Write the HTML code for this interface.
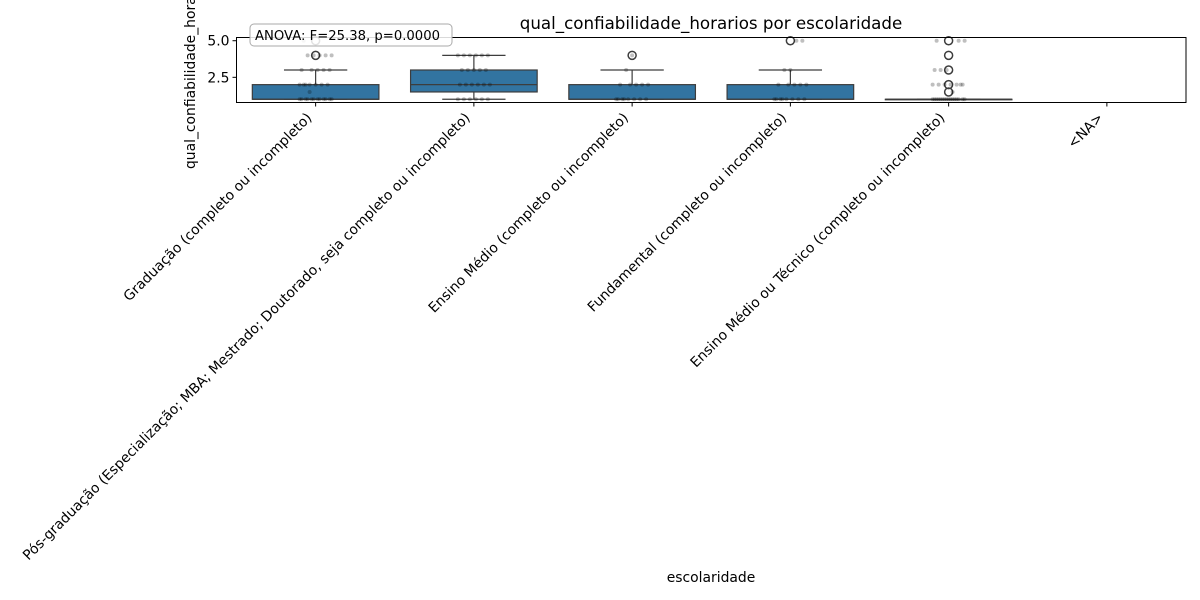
<!DOCTYPE html>
<html><head><meta charset="utf-8"><style>
body{margin:0;background:#fff}
svg{display:block;font-family:"DejaVu Sans","Liberation Sans",sans-serif}
</style></head><body>
<svg width="1200" height="600" viewBox="0 0 1200 600">
<g id="root"></g>
</svg>
<script>
const categories=["Graduação (completo ou incompleto)","Pós-graduação (Especialização; MBA; Mestrado; Doutorado, seja completo ou incompleto)","Ensino Médio (completo ou incompleto)","Fundamental (completo ou incompleto)","Ensino Médio ou Técnico (completo ou incompleto)","<NA>"];
const q1=[1,1.5,1,1,1,null];
const med=[1,2,1,1,1,null];
const q3=[2,3,2,2,1,null];
const whiskLo=[1,1,1,1,1,null];
const whiskHi=[3,4,3,3,1,null];
const outliers=[[4,5],[],[4],[5],[1.5,2,3,4,5],[]];
const dots=[[1,1,1,1,1,1,1,1,1,1,1,1,2,2,2,2,2,2,2,3,3,3,3,3,4,4,4,4,4,5,1.5],[1,1,1,1,1,1,2,2,2,2,2,2,3,3,3,3,3,4,4,4,4,4,4],[1,1,1,1,1,1,1,1,2,2,2,2,2,3,4],[1,1,1,1,1,1,1,1,2,2,2,2,2,3,3,5,5],[1,1,1,1,1,1,1,1,1,1,1,1,1,1,1,1,2,2,2,2,2,2,2,3,3,3,1.5,5,5,5],[]];
const yTicks=[2.5,5.0];
const yMin=0.78,yMax=5.22;
const L=236.5,R=1186,T=37.5,B=102.5;
const NS="http://www.w3.org/2000/svg";
const root=document.getElementById('root');
function X(i){return L+(R-L)*(i+0.5)/categories.length;}
function Y(v){return B-(v-yMin)/(yMax-yMin)*(B-T);}
function mk(t,a,p){const e=document.createElementNS(NS,t);for(const k in a)e.setAttribute(k,a[k]);(p||root).appendChild(e);return e;}
const bw=(R-L)/categories.length*0.8;
categories.forEach((c,i)=>{
  if(q1[i]===null)return;
  const g=mk('g',{});
  
  
  const x=X(i);
  mk('line',{x1:x,x2:x,y1:Y(whiskLo[i]),y2:Y(q1[i]),stroke:'#3d3d3d','stroke-width':1.2},g);
  mk('line',{x1:x,x2:x,y1:Y(q3[i]),y2:Y(whiskHi[i]),stroke:'#3d3d3d','stroke-width':1.2},g);
  mk('line',{x1:x-bw/4,x2:x+bw/4,y1:Y(whiskLo[i]),y2:Y(whiskLo[i]),stroke:'#3d3d3d','stroke-width':1.2},g);
  mk('line',{x1:x-bw/4,x2:x+bw/4,y1:Y(whiskHi[i]),y2:Y(whiskHi[i]),stroke:'#3d3d3d','stroke-width':1.2},g);
  const b=mk('rect',{x:x-bw/2,y:Y(q3[i]),width:bw,height:Math.max(0.5,Y(q1[i])-Y(q3[i])),fill:'#3274a1',stroke:'#3d3d3d','stroke-width':1.2},g);
  
  
  mk('line',{x1:x-bw/2,x2:x+bw/2,y1:Y(med[i]),y2:Y(med[i]),stroke:'#3d3d3d','stroke-width':1.2},g);
  outliers[i].forEach(v=>{
    const o=mk('circle',{cx:x,cy:Y(v),r:4,fill:'none',stroke:'#3d3d3d','stroke-width':1.5},g);
    
    
  });
  dots[i].forEach((v,k)=>{
    const j=((k*37)%17-8)/8*16;
    const d=mk('circle',{cx:x+j,cy:Y(v),r:2,fill:'#000','fill-opacity':0.25},g);
    
    
  });
});
const fr=mk('rect',{x:L,y:T,width:R-L,height:B-T,fill:'none',stroke:'#000','stroke-width':1});


yTicks.forEach(v=>{
  mk('line',{x1:L-4,x2:L,y1:Y(v),y2:Y(v),stroke:'#000'});
  const t=mk('text',{x:L-7,y:Y(v)+5,'text-anchor':'end','font-size':13.9});
  t.textContent=v.toFixed(1);
  
  
});
categories.forEach((c,i)=>{
  const x=X(i);
  mk('line',{x1:x,x2:x,y1:B,y2:B+4,stroke:'#000'});
  const ax=x-3,ay=B+16;
  const t=mk('text',{x:ax,y:ay,'text-anchor':'end','font-size':13.9,transform:`rotate(-45 ${ax} ${ay})`});
  t.textContent=c;
  
  
});
const yl=mk('text',{x:195,y:70,'text-anchor':'middle','font-size':13.9,transform:'rotate(-90 195 70)'});
yl.textContent='qual_confiabilidade_horarios';


const xl=mk('text',{x:711,y:582,'text-anchor':'middle','font-size':13.9});
xl.textContent='escolaridade';


const ti=mk('text',{x:711,y:29,'text-anchor':'middle','font-size':16.7});
ti.textContent='qual_confiabilidade_horarios por escolaridade';


const ab=mk('rect',{x:250,y:24,width:202,height:22,rx:4,fill:'#fff','fill-opacity':0.85,stroke:'#aaa','stroke-width':1});


const at=mk('text',{x:255,y:40,'font-size':13.2});
at.textContent='ANOVA: F=25.38, p=0.0000';


</script>
</body></html>
